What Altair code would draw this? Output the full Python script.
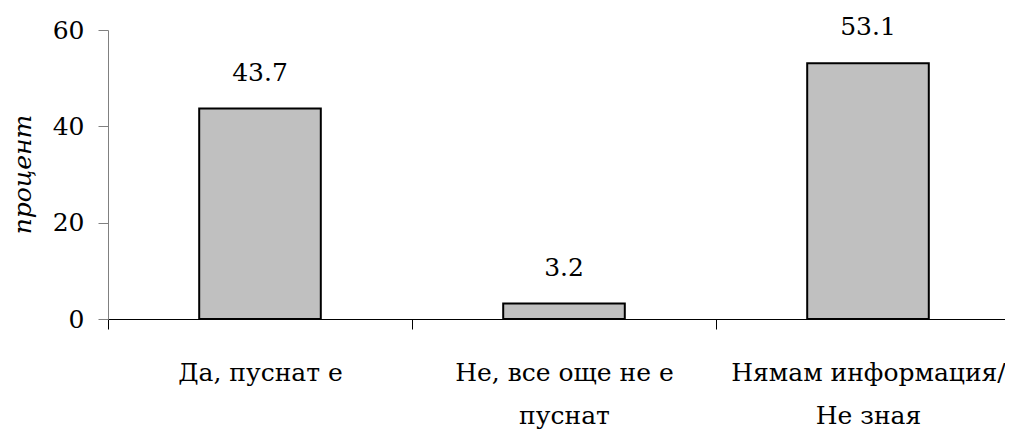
import altair as alt
import pandas as pd

categories = ["Да, пуснат е", "Не, все още не е пуснат", "Нямам информация/ Не зная"]
label_lines = [["Да, пуснат е"], ["Не, все още не е", "пуснат"], ["Нямам информация/", "Не зная"]]
values = [43.7, 3.2, 53.1]
y_ticks = [0, 20, 40, 60]

df = pd.DataFrame({"cat": categories, "val": values})

FONT = "DejaVu Serif"
FS = 25

expr_parts = []
for c, lines in zip(categories, label_lines):
    arr = "[" + ", ".join("'" + l + "'" for l in lines) + "]"
    expr_parts.append(f"datum.label == '{c}' ? {arr} : ")
label_expr = "".join(expr_parts) + "datum.label"

x_enc = alt.X(
    "cat:N",
    sort=categories,
    scale=alt.Scale(paddingInner=0, paddingOuter=0),
    axis=alt.Axis(
        title=None,
        labelExpr=label_expr,
        labelAngle=0,
        labelFont=FONT,
        labelFontSize=FS,
        labelColor="black",
        labelBaseline="alphabetic",
        labelPadding=51,
        labelLineHeight=43,
        labelLimit=0,
        tickBand="extent",
        tickSize=10,
        tickColor="black",
        domainColor="black",
        tickWidth=1,
        domainWidth=1,
        grid=False,
    ),
)

y_enc = alt.Y(
    "val:Q",
    scale=alt.Scale(domain=[0, 60], nice=False),
    axis=alt.Axis(
        values=y_ticks,
        title="процент",
        titleFont=FONT,
        titleFontSize=FS,
        titleFontStyle="italic",
        titleFontWeight="normal",
        titleColor="black",
        titleX=-86,
        titleY=144,
        titleAngle=-90,
        titleBaseline="middle",
        titleAlign="center",
        labelFont=FONT,
        labelFontSize=FS,
        labelColor="black",
        labelPadding=14,
        tickSize=10,
        tickColor="#808080",
        domainColor="#808080",
        grid=False,
    ),
)

bars = alt.Chart(df).mark_bar(
    width=alt.RelativeBandSize(0.4),
    color="#c0c0c0",
    stroke="black",
    strokeWidth=2,
).encode(x=x_enc, y=y_enc)

texts = alt.Chart(df).mark_text(
    baseline="alphabetic",
    dy=-28,
    font=FONT,
    fontSize=FS,
    color="black",
).encode(
    x=alt.X("cat:N", sort=categories),
    y=alt.Y("val:Q"),
    text=alt.Text("val:Q", format=".1f"),
)

chart = (
    alt.layer(bars, texts)
    .properties(
        width=912,
        height=289,
        autosize=alt.AutoSizeParams(type="none"),
        padding={"left": 100, "top": 22, "right": -15, "bottom": 110},
    )
    .configure_view(stroke=None)
)

chart.save("out.html", embed_options={"renderer": "svg", "actions": False})
